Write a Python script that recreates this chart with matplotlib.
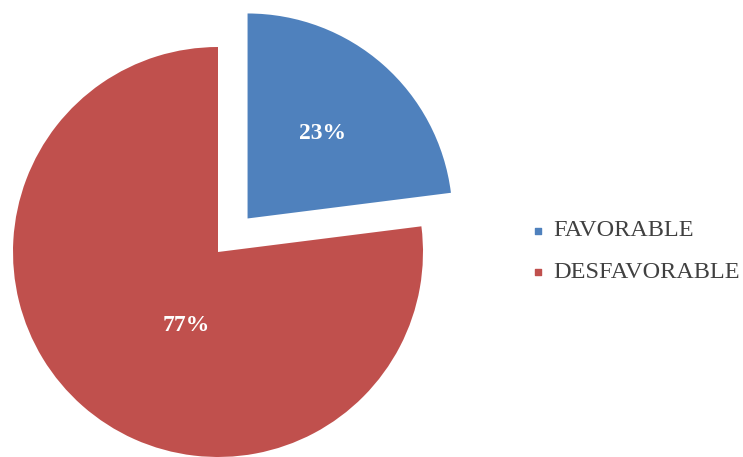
import matplotlib
matplotlib.use("Agg")
import matplotlib.pyplot as plt
import numpy as np

categories = ["FAVORABLE", "DESFAVORABLE"]
values = [23, 77]
colors = ["#4F81BD", "#C0504D"]
explode_frac = [0.218, 0.0]

W, H = 743, 457
fig = plt.figure(figsize=(W / 100, H / 100), dpi=100)
ax = fig.add_axes([0, 0, 1, 1])

R = 205
cx, cy = 218, H - 252
wedges, texts, autotexts = ax.pie(
    values, colors=colors, explode=[e * R for e in explode_frac], startangle=90,
    counterclock=False, radius=R, center=(cx, cy), autopct="%d%%", pctdistance=0.55,
    textprops=dict(color="white", fontsize=17, fontweight="bold", family="Liberation Serif"),
    wedgeprops=dict(linewidth=0),
)
# nudge the large slice label toward where the reference has it
ang = np.deg2rad(247)
autotexts[1].set_position((cx + 0.39 * R * np.cos(ang), cy + 0.39 * R * np.sin(ang)))

ax.set_xlim(0, W)
ax.set_ylim(0, H)
ax.set_aspect("equal")
ax.axis("off")

# legend
for i, (cat, col) in enumerate(zip(categories, colors)):
    y = H - (231 + 41 * i)
    ax.scatter([538], [y], marker="s", s=24, color=col, clip_on=False)
    ax.text(553, y, cat, fontsize=17.5, family="Liberation Serif", color="#404040",
            va="center", ha="left")

fig.savefig("out.png", dpi=100)
